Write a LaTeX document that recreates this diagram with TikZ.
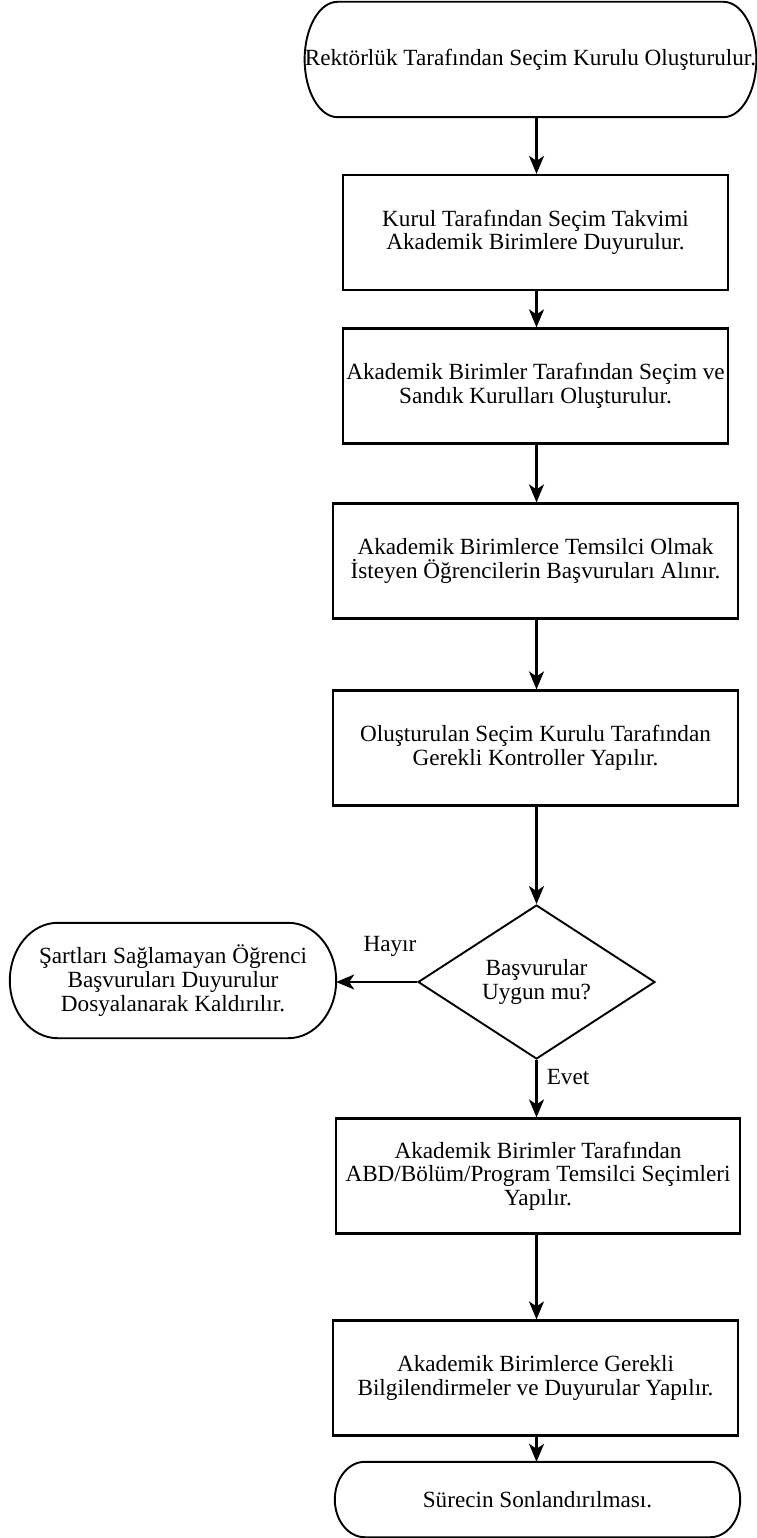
\documentclass[tikz,border=0pt]{standalone}
\usepackage{fontspec}
\setmainfont{Liberation Serif}
\usetikzlibrary{shapes.geometric,arrows.meta,calc}

\tikzset{
  box/.style={rectangle, draw, line width=2.2pt, minimum height=115pt},
  terminal/.style={rectangle, minimum height=#1},
  decision/.style={diamond, draw, line width=1.9pt, aspect=1.54,
    minimum width=237pt, minimum height=154pt},
  flow/.style={line width=2.2pt, -{Stealth[length=18pt,width=15pt,inset=5pt]}},
}

% rounded ends of a terminal node
\newcommand{\termoutline}[2]{%
  \draw[line width=1.9pt] let \p1=(#1.north), \p2=(#1.south), \n1={(\y1-\y2)/2} in
    ([xshift=#2]#1.north west) -- ([xshift=-#2]#1.north east)
    arc[start angle=90, end angle=-90, x radius=#2, y radius=\n1]
    -- ([xshift=#2]#1.south west)
    arc[start angle=270, end angle=90, x radius=#2, y radius=\n1] -- cycle;}

\begin{document}
\begin{tikzpicture}[x=1pt, y=-1pt,
    every node/.style={font=\fontsize{23.2pt}{23.6pt}\selectfont, align=center, inner sep=0pt}]

  \useasboundingbox (0,0) rectangle (756,1538);

  \begin{scope}
    \node[terminal=115pt, minimum width=451pt] (start) at (530.5,59.5)
      {Rektörlük Tarafından Seçim Kurulu Oluşturulur.};
    \node[box, minimum width=385pt] (kurul) at (535.5,232.5)
      {Kurul Tarafından Seçim Takvimi\\Akademik Birimlere Duyurulur.};
    \node[box, minimum width=385pt] (sandik) at (535.5,386)
      {Akademik Birimler Tarafından Seçim ve\\Sandık Kurulları Oluşturulur.};
    \node[box, minimum width=405pt] (basvuru) at (535.5,561)
      {Akademik Birimlerce Temsilci Olmak\\İsteyen Öğrencilerin Başvuruları Alınır.};
    \node[box, minimum width=405pt] (kontrol) at (535.5,748)
      {Oluşturulan Seçim Kurulu Tarafından\\Gerekli Kontroller Yapılır.};
    \node[decision] (uygun) at (536.5,982)
      {Başvurular\\Uygun mu?};
    \node[terminal=115pt, minimum width=326pt] (red) at (173,980.5)
      {Şartları Sağlamayan Öğrenci\\Başvuruları Duyurulur\\Dosyalanarak Kaldırılır.};
    \node[box, minimum width=404pt] (secim) at (538,1176)
      {Akademik Birimler Tarafından\\ABD/Bölüm/Program Temsilci Seçimleri\\Yapılır.};
    \node[box, minimum width=405pt] (duyuru) at (535.5,1378)
      {Akademik Birimlerce Gerekli\\Bilgilendirmeler ve Duyurular Yapılır.};
    \node[terminal=75pt, minimum width=405pt] (son) at (537.5,1499.5)
      {Sürecin Sonlandırılması.};
  \end{scope}

  \termoutline{start}{33pt}
  \termoutline{red}{48pt}
  \termoutline{son}{30pt}

  \node (hayir) at (390,946) {Hayır};
  \node (evet) at (568,1077) {Evet};

  \draw[flow] (start.south -| uygun.north) -- (kurul.north -| uygun.north);
  \draw[flow] (kurul.south -| uygun.north) -- (sandik.north -| uygun.north);
  \draw[flow] (sandik.south -| uygun.north) -- (basvuru.north -| uygun.north);
  \draw[flow] (basvuru.south -| uygun.north) -- (kontrol.north -| uygun.north);
  \draw[flow] (kontrol.south -| uygun.north) -- (uygun);
  \draw[flow] (uygun.west) -- (red.east |- uygun.west);
  \draw[flow] (uygun.south) -- (secim.north -| uygun.south);
  \draw[flow] (secim.south -| uygun.south) -- (duyuru.north -| uygun.south);
  \draw[flow] (duyuru.south -| uygun.south) -- (son.north -| uygun.south);

\end{tikzpicture}
\end{document}
